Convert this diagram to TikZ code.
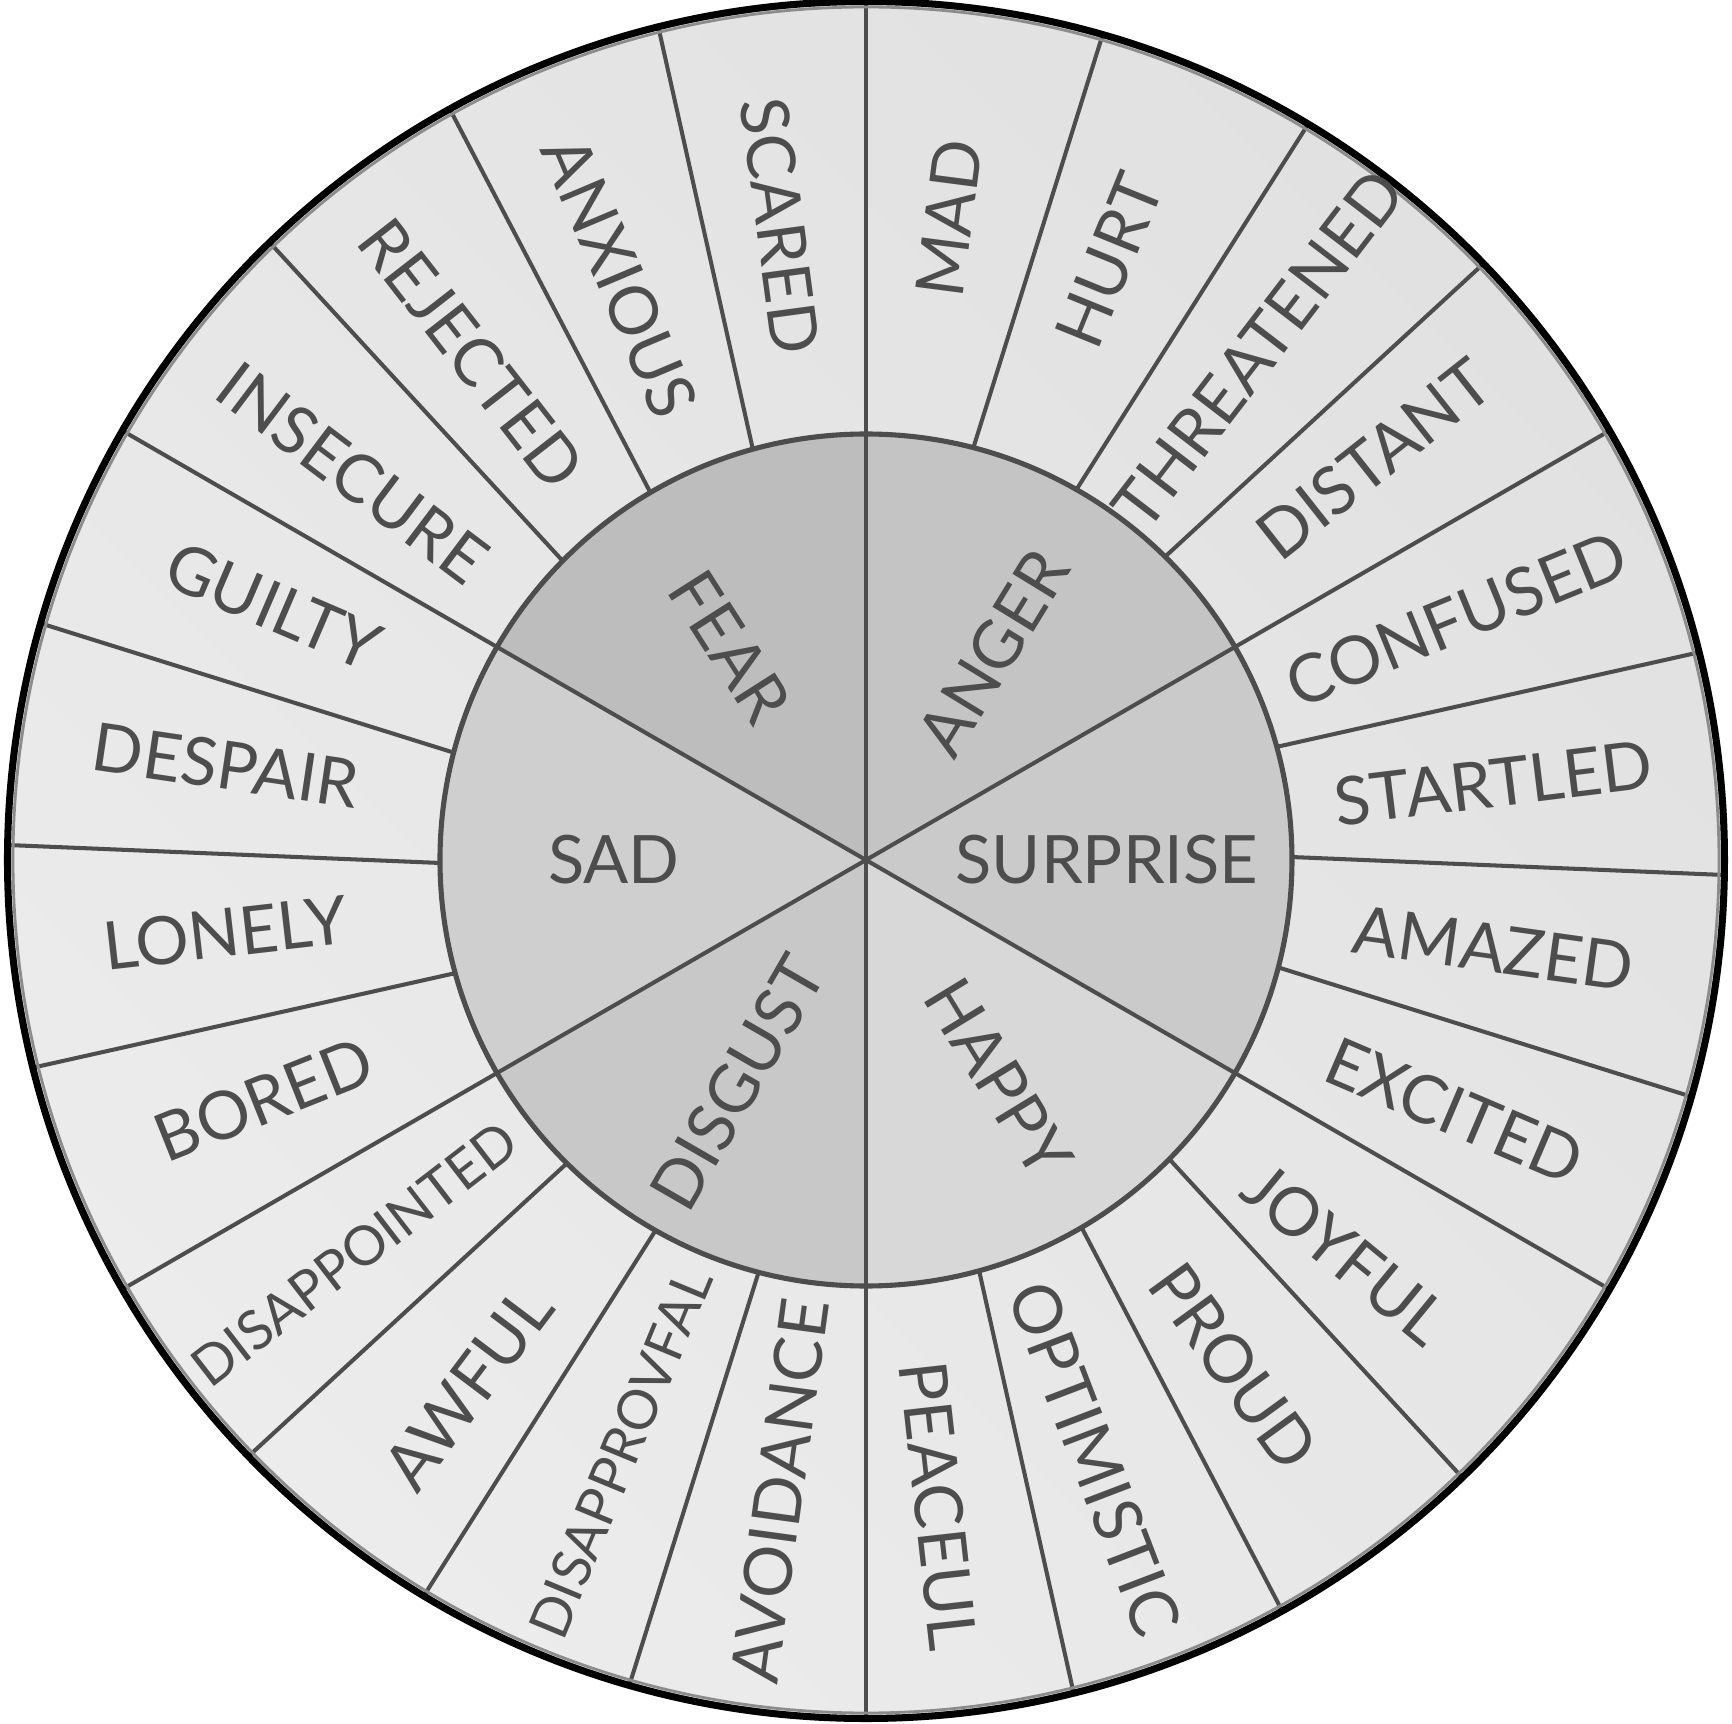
\documentclass[tikz,border=0pt]{standalone}
\usepackage{fontspec}
\setmainfont{Lato}
\begin{document}
\begin{tikzpicture}[x=0.1mm,y=0.1mm]
\definecolor{ink}{HTML}{4D4D4D}
\definecolor{fearc}{HTML}{BDBDBD}
\definecolor{angerc}{HTML}{C4C4C4}
\definecolor{surpc}{HTML}{CACACA}
\definecolor{happyc}{HTML}{D8D8D8}
\definecolor{disgc}{HTML}{C8C8C8}
\definecolor{sadc}{HTML}{CFCFCF}
\definecolor{ringA}{HTML}{E1E1E1}
\definecolor{ringB}{HTML}{ECECEC}
\tikzset{
  lab/.style={text=ink, inner sep=0pt},
  spoke/.style={draw=ink, line width=1.15pt},
}
\useasboundingbox (-866,-864) rectangle (866,860);
% outer ring background
\shade[top color=ringA, bottom color=ringB, shading angle=-45] (0,0) circle (858);
% inner sectors
\fill[angerc] (0,0) -- (30:426) arc[start angle=30, end angle=90, radius=426] -- cycle;
\fill[fearc] (0,0) -- (90:426) arc[start angle=90, end angle=150, radius=426] -- cycle;
\fill[sadc] (0,0) -- (150:426) arc[start angle=150, end angle=210, radius=426] -- cycle;
\fill[disgc] (0,0) -- (210:426) arc[start angle=210, end angle=270, radius=426] -- cycle;
\fill[happyc] (0,0) -- (270:426) arc[start angle=270, end angle=330, radius=426] -- cycle;
\fill[surpc] (0,0) -- (330:426) arc[start angle=330, end angle=390, radius=426] -- cycle;
% main spokes
\coordinate (c) at (0,0);
\foreach \a in {30,90,150,210,270,330}
  \draw[spoke] (c) -- (\a:858);
% outer segment lines
\foreach \a in {0,15,45,60,75,105,120,135,165,180,195,225,240,255,285,300,315,345}
  \draw[spoke] ({\a+0.4}:426) -- ({\a-1.0}:858);
% inner circle
\draw[draw=ink, line width=1.45pt] (c) circle (426);
% outer circle
\draw[draw=black!45, line width=0.8pt] (c) circle (853);
\draw[draw=black, line width=2pt] (c) circle (858.5);
% outer labels
\foreach \a/\r/\rot/\t/\fs [count=\i] in {
  97.7/640/-82.3/SCARED/19,
  82.6/647/82.6/MAD/19,
  67.9/647/67.9/HURT/19,
  52.5/644/52.5/THREATENED/19,
  38.3/647/38.3/DISTANT/19,
  22.2/638/22.2/CONFUSED/19,
  7.0/632/7.0/STARTLED/19,
  -8.0/634/-8.0/AMAZED/19,
  -23.1/640/-23.1/EXCITED/19,
  -39.4/621/-39.4/JOYFUL/19,
  -54/626/-54/PROUD/19,
  -69.1/641/-69.1/OPTIMISTIC/19,
  -83.6/650/-83.6/PEACEUL/19,
  -97.8/637/82.2/AVOIDANCE/19,
  -112.5/642/67.5/DISAPPROVFAL/15.5,
  -127/661/53/AWFUL/19,
  -142.4/646/37.6/DISAPPOINTED/15.5,
  -158.3/648/21.7/BORED/19,
  -173.5/645/6.5/LONELY/19,
  171.6/647/-8.4/DESPAIR/19,
  156.8/645/-23.2/GUILTY/19,
  143/643/-37/INSECURE/19,
  127.9/642/-52.1/REJECTED/19,
  112.9/633/-67.1/ANXIOUS/19}
  \node[lab, rotate=\rot, font=\fontsize{\fs}{\fs}\selectfont] (o\i) at (\a:\r) {\t};
% inner labels
\foreach \a/\r/\rot/\t [count=\i] in {
  122.5/253/-57.5/FEAR,
  58.5/243/58.5/ANGER,
  0/241/0/SURPRISE,
  -58.6/255/-58.6/HAPPY,
  -120/257/60/DISGUST,
  180/252/0/SAD}
  \node[lab, rotate=\rot, font=\fontsize{19}{19}\selectfont] (m\i) at (\a:\r) {\t};
\end{tikzpicture}
\end{document}
